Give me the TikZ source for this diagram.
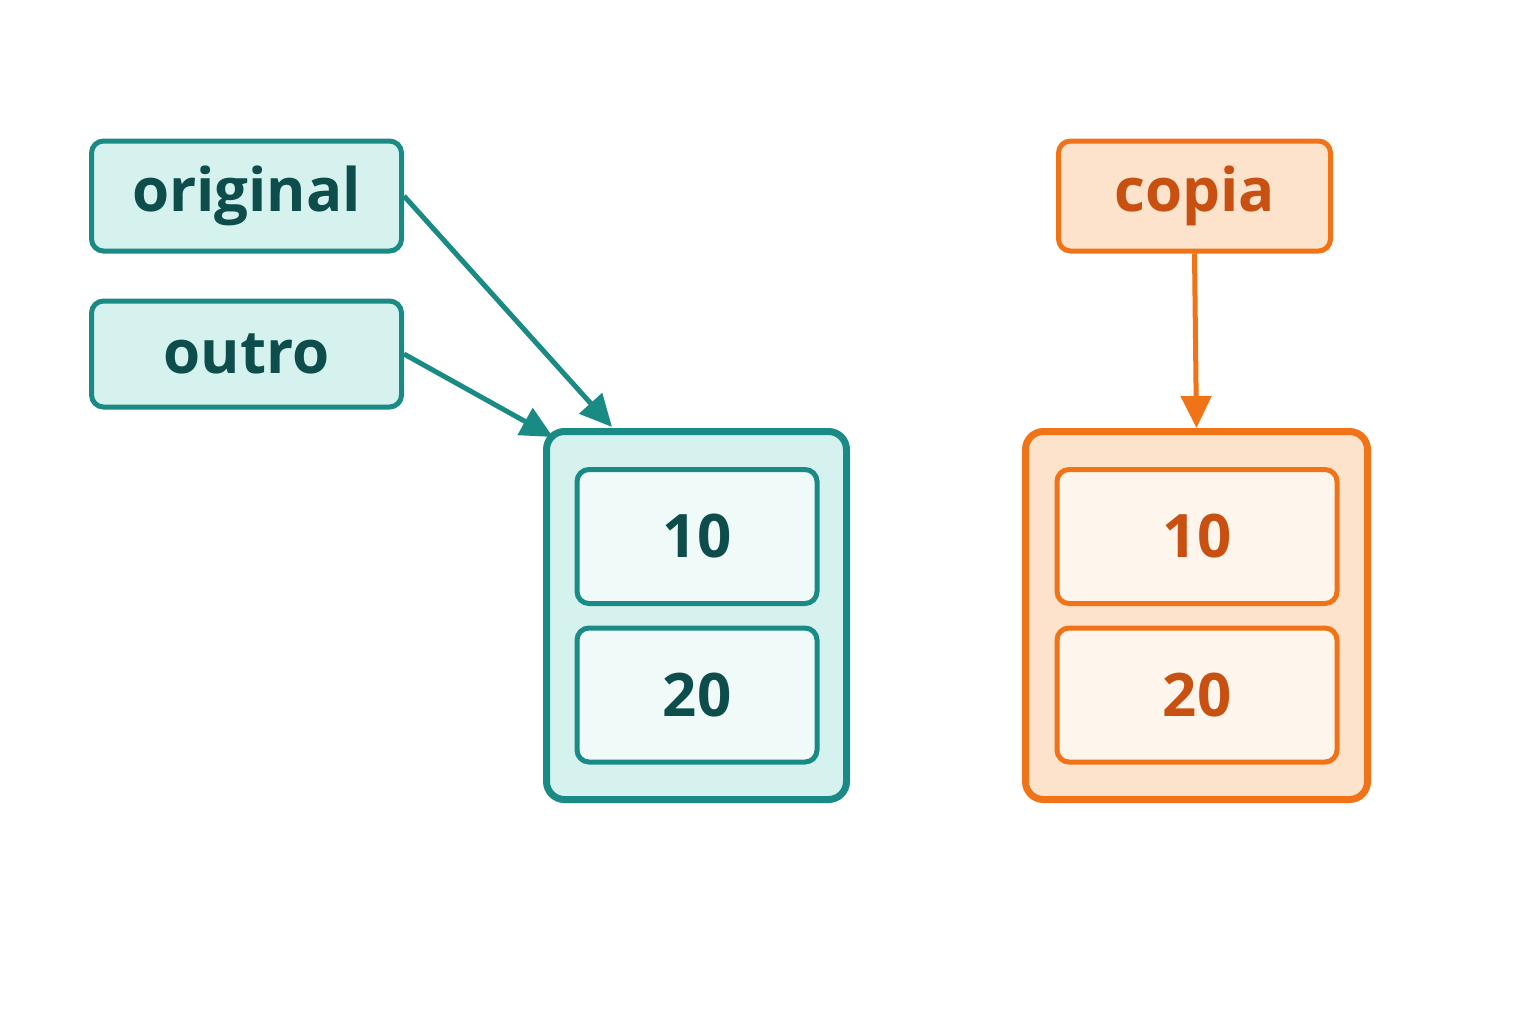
\documentclass[tikz,border=0pt]{standalone}
\usepackage{fontspec}
\setmainfont{Open Sans}
\usetikzlibrary{arrows.meta}
\definecolor{tl}{HTML}{1A8A85}\definecolor{tlf}{HTML}{D5F2EE}\definecolor{tlt}{HTML}{0D4D4B}\definecolor{tli}{HTML}{F0FAF9}
\definecolor{or}{HTML}{F07318}\definecolor{orf}{HTML}{FDE3CC}\definecolor{ort}{HTML}{C85010}\definecolor{ori}{HTML}{FEF5EC}
\begin{document}
\begin{tikzpicture}[x=0.5pt,y=-0.5pt,
 box/.style={draw,rounded corners=6pt,line width=2.5pt,inner sep=0,font=\fontsize{30}{30}\selectfont\bfseries},
 outer/.style={draw,rounded corners=9pt,line width=3.5pt,inner sep=0},
 arr/.style={line width=2.5pt,-{Triangle[length=16pt,width=15pt]}}]
\useasboundingbox[fill=white] (0,0) rectangle (1536,1024);
\node[box,draw=tl,fill=tlf,text=tlt,minimum width=155pt,minimum height=55pt] (orig) at (246.5,196) {original};
\node[box,draw=tl,fill=tlf,text=tlt,minimum width=155pt,minimum height=53pt] (outro) at (246.5,354) {outro};
\node[outer,draw=tl,fill=tlf,minimum width=150pt,minimum height=184pt] (tb) at (696.5,615.5) {};
\node[box,draw=tl,fill=tli,text=tlt,minimum width=120pt,minimum height=67pt] (t1) at (697,536.5) {10};
\node[box,draw=tl,fill=tli,text=tlt,minimum width=120pt,minimum height=67pt] (t2) at (697,695) {20};
\node[box,draw=or,fill=orf,text=ort,minimum width=136pt,minimum height=55pt] (copia) at (1194.5,196) {copia};
\node[outer,draw=or,fill=orf,minimum width=171pt,minimum height=184pt] (ob) at (1196.5,615.5) {};
\node[box,draw=or,fill=ori,text=ort,minimum width=140pt,minimum height=67pt] (o1) at (1197,536.5) {10};
\node[box,draw=or,fill=ori,text=ort,minimum width=140pt,minimum height=67pt] (o2) at (1197,695) {20};
\coordinate (a1) at (612,427);\coordinate (a2) at (553,437);
\draw[arr,tl] (orig.east) -- (a1);
\draw[arr,tl] (outro.east) -- (a2);
\draw[arr,or] (copia.south) -- (ob.north);
\end{tikzpicture}
\end{document}
